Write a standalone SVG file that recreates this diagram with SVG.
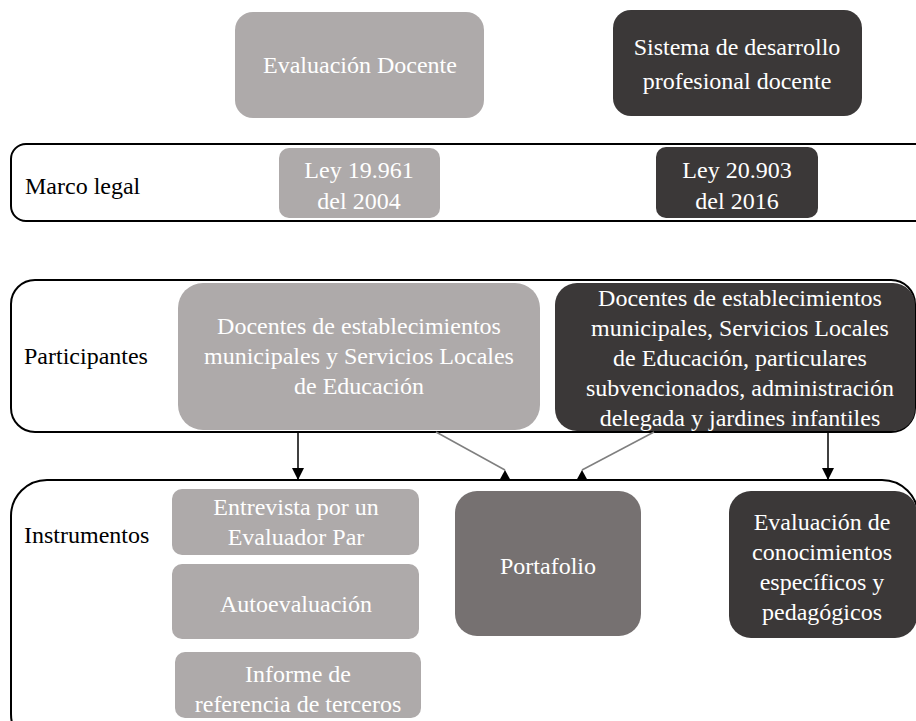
<svg xmlns="http://www.w3.org/2000/svg" width="916" height="721" viewBox="0 0 916 721" font-family="'Liberation Serif', 'Times New Roman', serif" font-size="24">
<defs>
<style>
text{font-family:'Liberation Serif','Times New Roman',serif;font-size:24px}
.w{fill:#ffffff;text-anchor:middle}
.k{fill:#000000}
.lg{fill:#aeaaaa}
.dk{fill:#3b3838}
.md{fill:#767171}
.frame{fill:none;stroke:#000;stroke-width:2}
.ln{stroke:#000;stroke-width:1.5;fill:none}
.lg2{stroke:#7f7f7f;stroke-width:1.5;fill:none}
</style>
<marker id="ad" viewBox="0 0 12 12" refX="12" refY="6" markerWidth="12" markerHeight="12" markerUnits="userSpaceOnUse" orient="auto">
<path d="M0,0 L12,6 L0,12 Z" fill="#000"/>
</marker>
<marker id="au" viewBox="0 0 12 12" refX="0" refY="6" markerWidth="12" markerHeight="12" markerUnits="userSpaceOnUse" orient="90">
<path d="M0,6 L11,0 L11,12 Z" fill="#000"/>
</marker>
</defs>
<rect width="916" height="721" fill="#fff"/>

<g id="frame-marco">
<rect class="frame" x="11" y="144" width="930" height="77" rx="15"/>
<text class="k" x="25" y="194">Marco legal</text>
</g>
<g id="frame-participantes">
<rect class="frame" x="11" y="280" width="904" height="152" rx="24"/>
<text class="k" x="24" y="364">Participantes</text>
</g>
<g id="frame-instrumentos">
<rect class="frame" x="11" y="480" width="907" height="270" rx="36"/>
<text class="k" x="24" y="543">Instrumentos</text>
</g>

<g id="n-evaluacion-docente">
<rect class="lg" x="235" y="12" width="249" height="106" rx="18"/>
<text class="w" x="360" y="73">Evaluación Docente</text>
</g>
<g id="n-sistema">
<rect class="dk" x="613" y="10" width="249" height="106" rx="18"/>
<text class="w" x="737" y="55">Sistema de desarrollo</text>
<text class="w" x="737" y="89">profesional docente</text>
</g>
<g id="n-ley-2004">
<rect class="lg" x="279" y="148" width="161" height="70" rx="10"/>
<text class="w" x="359" y="178">Ley 19.961</text>
<text class="w" x="359" y="209">del 2004</text>
</g>
<g id="n-ley-2016">
<rect class="dk" x="656" y="147" width="162" height="71" rx="10"/>
<text class="w" x="737" y="178">Ley 20.903</text>
<text class="w" x="737" y="209">del 2016</text>
</g>
<g id="n-part-left">
<rect class="lg" x="178" y="283" width="362" height="147" rx="25"/>
<text class="w" x="359" y="334">Docentes de establecimientos</text>
<text class="w" x="359" y="364">municipales y Servicios Locales</text>
<text class="w" x="359" y="394">de Educación</text>
</g>
<g id="n-part-right">
<rect class="dk" x="555" y="283" width="360" height="148" rx="22"/>
<text class="w" x="740" y="306">Docentes de establecimientos</text>
<text class="w" x="740" y="336">municipales, Servicios Locales</text>
<text class="w" x="740" y="366">de Educación, particulares</text>
<text class="w" x="740" y="396">subvencionados, administración</text>
<text class="w" x="740" y="426">delegada y jardines infantiles</text>
</g>
<g id="n-entrevista">
<rect class="lg" x="172" y="489" width="247" height="66" rx="10"/>
<text class="w" x="296" y="515">Entrevista por un</text>
<text class="w" x="296" y="545">Evaluador Par</text>
</g>
<g id="n-autoevaluacion">
<rect class="lg" x="172" y="564" width="247" height="75" rx="10"/>
<text class="w" x="296" y="612">Autoevaluación</text>
</g>
<g id="n-informe">
<rect class="lg" x="175" y="652" width="246" height="66" rx="10"/>
<text class="w" x="298" y="682">Informe de</text>
<text class="w" x="298" y="712">referencia de terceros</text>
</g>
<g id="n-portafolio">
<rect class="md" x="455" y="491" width="186" height="145" rx="22"/>
<text class="w" x="548" y="574">Portafolio</text>
</g>
<g id="n-eval-conoc">
<rect class="dk" x="729" y="491" width="188" height="147" rx="22"/>
<text class="w" x="822" y="530">Evaluación de</text>
<text class="w" x="822" y="560">conocimientos</text>
<text class="w" x="822" y="590">específicos y</text>
<text class="w" x="822" y="620">pedagógicos</text>
</g>

<g id="connectors">
<line class="ln" x1="298" y1="432" x2="298" y2="480" marker-end="url(#ad)"/>
<line class="ln" x1="828" y1="432" x2="828" y2="480" marker-end="url(#ad)"/>
<line class="lg2" x1="436" y1="432" x2="505" y2="470" marker-end="url(#au)"/>
<line class="lg2" x1="654" y1="432" x2="582" y2="470" marker-end="url(#au)"/>
</g>
</svg>
